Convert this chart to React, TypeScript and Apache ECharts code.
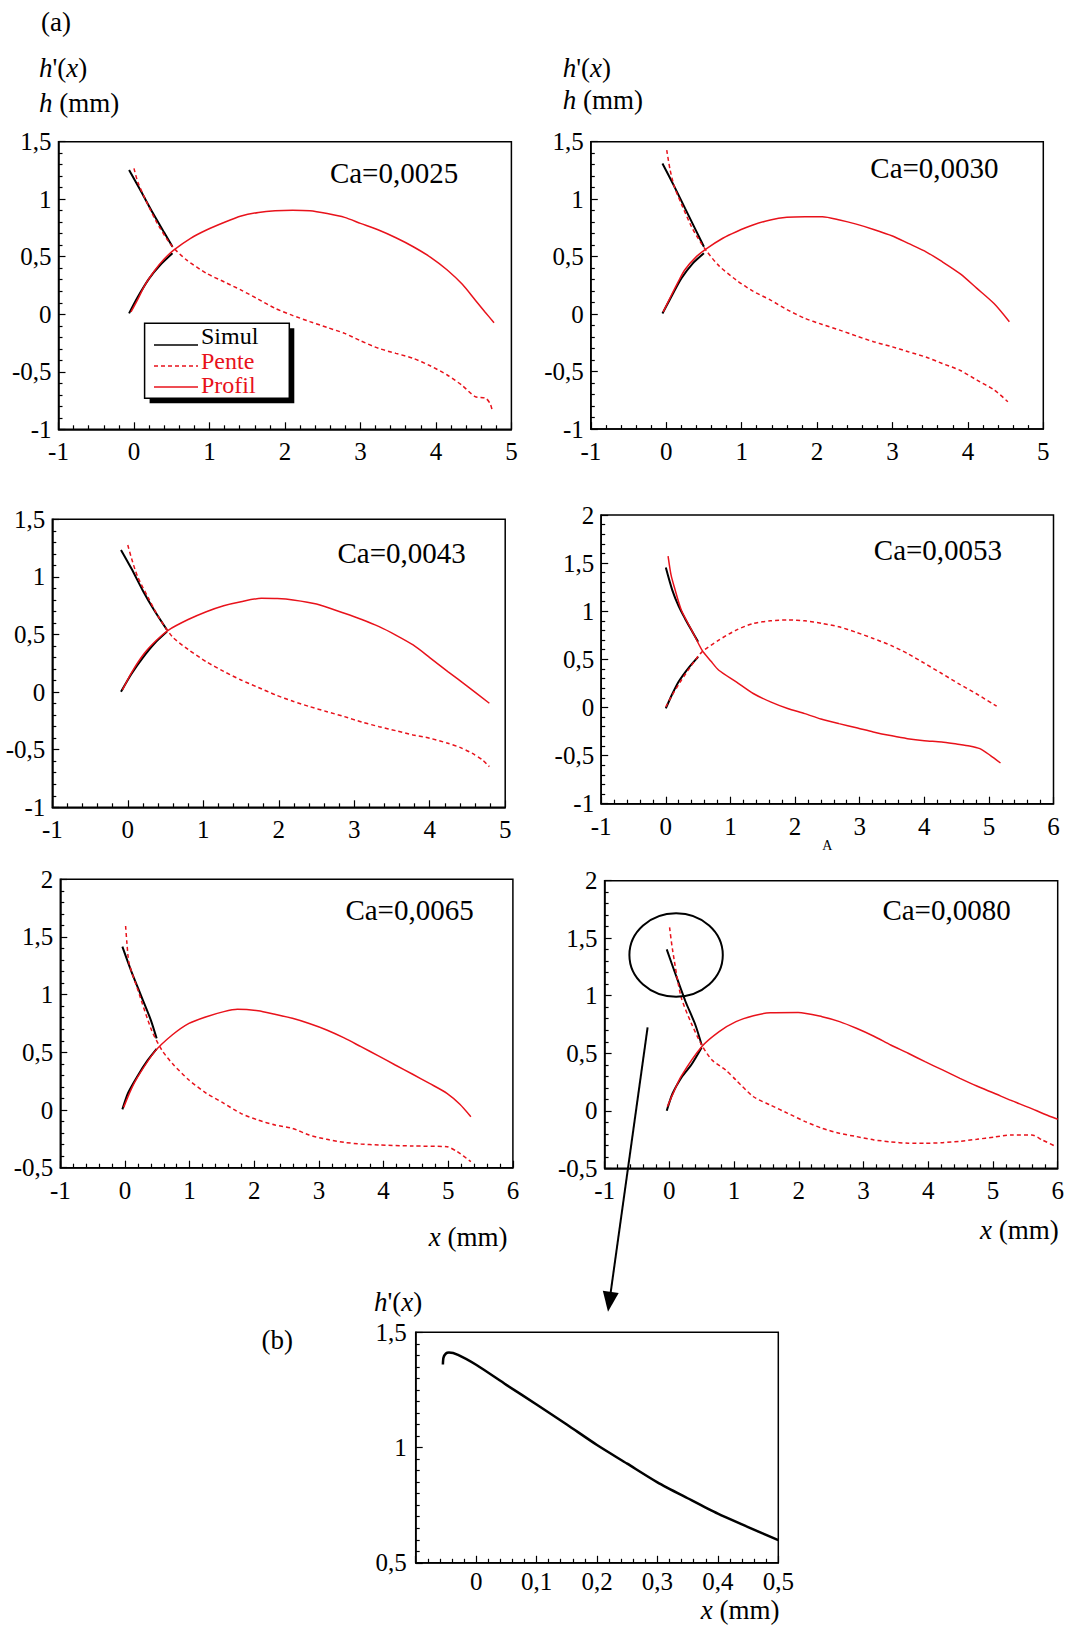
import React, { useEffect, useRef } from 'react';
import * as echarts from 'echarts';

const W = 1069;
const H = 1626;
const FONT = '"Liberation Serif", "Times New Roman", serif';
const RED = '#e8121b';

// ---------- data: Ca labels ----------
const caLabels = ['Ca=0,0025', 'Ca=0,0030', 'Ca=0,0043', 'Ca=0,0053', 'Ca=0,0065', 'Ca=0,0080'];

// ---------- Ca = 0,0025 ----------
const simulSlope1 = [[-0.065, 1.254], [0.1, 1.06], [0.25, 0.88], [0.4, 0.71], [0.51, 0.587]];
const simulH1 = [[-0.065, 0.008], [0.05, 0.15], [0.2, 0.31], [0.35, 0.43], [0.51, 0.53]];
const pente1 = [[0.0, 1.268], [0.05, 1.15], [0.15, 1.0], [0.3, 0.8], [0.45, 0.64], [0.53, 0.573], [0.7, 0.47], [0.96, 0.356], [1.2, 0.28], [1.42, 0.21], [1.65, 0.13], [1.87, 0.051], [2.1, -0.01], [2.33, -0.064], [2.56, -0.115], [2.79, -0.166], [3.0, -0.23], [3.24, -0.296], [3.47, -0.34], [3.7, -0.383], [3.93, -0.45], [4.15, -0.528], [4.35, -0.62], [4.52, -0.716], [4.66, -0.73], [4.72, -0.78], [4.75, -0.846]];
const profil1 = [[-0.04, 0.02], [0.05, 0.13], [0.15, 0.26], [0.28, 0.385], [0.4, 0.48], [0.53, 0.559], [0.75, 0.66], [0.96, 0.732], [1.2, 0.8], [1.42, 0.854], [1.65, 0.885], [1.87, 0.9], [2.1, 0.905], [2.33, 0.9], [2.56, 0.875], [2.79, 0.842], [3.0, 0.79], [3.24, 0.732], [3.47, 0.665], [3.7, 0.587], [3.93, 0.495], [4.15, 0.385], [4.35, 0.26], [4.52, 0.124], [4.65, 0.02], [4.77, -0.073]];

// ---------- Ca = 0,0030 ----------
const simulSlope2 = [[-0.05, 1.311], [0.1, 1.12], [0.25, 0.92], [0.4, 0.72], [0.5, 0.586]];
const simulH2 = [[-0.05, 0.006], [0.05, 0.13], [0.2, 0.31], [0.35, 0.44], [0.5, 0.53]];
const pente2 = [[0.007, 1.427], [0.05, 1.26], [0.108, 1.108], [0.2, 0.96], [0.336, 0.76], [0.45, 0.63], [0.541, 0.543], [0.7, 0.42], [0.928, 0.297], [1.15, 0.2], [1.384, 0.122], [1.6, 0.04], [1.84, -0.037], [2.07, -0.09], [2.3, -0.139], [2.52, -0.19], [2.75, -0.24], [3.0, -0.285], [3.21, -0.327], [3.45, -0.375], [3.66, -0.429], [3.9, -0.49], [4.12, -0.574], [4.35, -0.66], [4.53, -0.762]];
const profil2 = [[-0.04, 0.02], [0.05, 0.14], [0.15, 0.27], [0.245, 0.384], [0.4, 0.5], [0.54, 0.572], [0.75, 0.66], [0.93, 0.717], [1.15, 0.775], [1.38, 0.819], [1.6, 0.842], [1.84, 0.847], [2.07, 0.847], [2.3, 0.819], [2.52, 0.783], [2.75, 0.737], [3.0, 0.68], [3.21, 0.615], [3.45, 0.54], [3.66, 0.456], [3.9, 0.35], [4.12, 0.224], [4.35, 0.09], [4.55, -0.066]];

// ---------- Ca = 0,0043 ----------
const simulSlope3 = [[-0.09, 1.234], [0.05, 1.07], [0.2, 0.88], [0.35, 0.71], [0.52, 0.539]];
const simulH3 = [[-0.09, 0.004], [0.05, 0.16], [0.2, 0.3], [0.35, 0.42], [0.52, 0.525]];
const pente3 = [[0.0, 1.277], [0.05, 1.16], [0.13, 1.002], [0.27, 0.82], [0.405, 0.655], [0.59, 0.481], [0.8, 0.37], [1.04, 0.264], [1.27, 0.18], [1.5, 0.105], [1.73, 0.04], [1.96, -0.025], [2.19, -0.08], [2.41, -0.126], [2.64, -0.17], [2.87, -0.213], [3.1, -0.26], [3.33, -0.3], [3.55, -0.335], [3.78, -0.372], [4.0, -0.4], [4.24, -0.444], [4.4, -0.48], [4.56, -0.53], [4.7, -0.59], [4.79, -0.647]];
const profil3 = [[-0.07, 0.02], [0.05, 0.17], [0.22, 0.337], [0.38, 0.45], [0.54, 0.539], [0.8, 0.63], [1.04, 0.698], [1.27, 0.75], [1.5, 0.785], [1.77, 0.814], [1.98, 0.812], [2.19, 0.8], [2.5, 0.765], [2.87, 0.684], [3.1, 0.63], [3.33, 0.568], [3.55, 0.495], [3.78, 0.409], [4.0, 0.3], [4.24, 0.178], [4.5, 0.05], [4.79, -0.097]];

// ---------- Ca = 0,0053 ----------
const simulSlope4 = [[0.0, 1.455], [0.1, 1.22], [0.2, 1.05], [0.3, 0.92], [0.4, 0.8], [0.5, 0.682]];
const simulH4 = [[0.0, -0.01], [0.1, 0.14], [0.2, 0.27], [0.35, 0.41], [0.5, 0.526]];
const pente4 = [[0.035, 1.573], [0.08, 1.38], [0.13, 1.254], [0.24, 1.012], [0.4, 0.804], [0.56, 0.596], [0.7, 0.48], [0.82, 0.387], [1.09, 0.266], [1.353, 0.145], [1.62, 0.058], [1.886, -0.011], [2.15, -0.064], [2.4, -0.12], [2.68, -0.168], [2.95, -0.21], [3.21, -0.254], [3.5, -0.295], [3.74, -0.324], [4.0, -0.345], [4.27, -0.358], [4.5, -0.38], [4.7, -0.4], [4.86, -0.428], [5.02, -0.497], [5.18, -0.577]];
const profil4 = [[0.0, 0.006], [0.1, 0.13], [0.24, 0.283], [0.4, 0.44], [0.56, 0.578], [0.82, 0.7], [1.09, 0.804], [1.353, 0.873], [1.62, 0.9], [1.9, 0.91], [2.15, 0.9], [2.42, 0.873], [2.68, 0.838], [2.95, 0.78], [3.21, 0.717], [3.5, 0.64], [3.74, 0.561], [4.0, 0.46], [4.27, 0.353], [4.55, 0.24], [4.8, 0.145], [5.12, 0.013]];

// ---------- Ca = 0,0065 ----------
const simulSlope5 = [[-0.04, 1.416], [0.1, 1.2], [0.25, 0.99], [0.4, 0.78], [0.49, 0.621]];
const simulH5 = [[-0.04, 0.006], [0.05, 0.15], [0.2, 0.3], [0.35, 0.43], [0.49, 0.53]];
const pente5 = [[0.01, 1.595], [0.03, 1.45], [0.064, 1.272], [0.2, 1.04], [0.41, 0.694], [0.57, 0.52], [0.73, 0.405], [0.99, 0.26], [1.26, 0.145], [1.53, 0.058], [1.79, -0.029], [2.06, -0.087], [2.32, -0.13], [2.59, -0.159], [2.85, -0.217], [3.12, -0.254], [3.39, -0.28], [3.65, -0.295], [3.92, -0.303], [4.45, -0.312], [4.98, -0.318], [5.14, -0.361], [5.35, -0.448]];
const profil5 = [[-0.02, 0.023], [0.08, 0.16], [0.2, 0.289], [0.46, 0.506], [0.73, 0.65], [0.99, 0.751], [1.26, 0.809], [1.53, 0.853], [1.74, 0.873], [2.06, 0.861], [2.32, 0.83], [2.59, 0.795], [2.85, 0.75], [3.12, 0.694], [3.39, 0.625], [3.65, 0.549], [3.92, 0.47], [4.18, 0.39], [4.45, 0.31], [4.71, 0.231], [4.98, 0.145], [5.18, 0.05], [5.35, -0.058]];

// ---------- Ca = 0,0080 ----------
const simulSlope6 = [[-0.04, 1.403], [0.1, 1.18], [0.25, 0.95], [0.4, 0.75], [0.5, 0.572]];
const simulH6 = [[-0.04, 0.0], [0.05, 0.15], [0.2, 0.3], [0.34, 0.4], [0.5, 0.55]];
const pente6 = [[0.004, 1.594], [0.05, 1.398], [0.18, 0.992], [0.34, 0.76], [0.5, 0.572], [0.66, 0.441], [0.87, 0.354], [1.03, 0.267], [1.3, 0.122], [1.56, 0.05], [1.83, -0.022], [2.1, -0.094], [2.36, -0.152], [2.63, -0.196], [2.89, -0.224], [3.16, -0.253], [3.42, -0.27], [3.69, -0.282], [3.95, -0.283], [4.22, -0.277], [4.49, -0.265], [4.75, -0.248], [5.02, -0.228], [5.28, -0.21], [5.6, -0.21], [5.76, -0.253], [5.95, -0.305]];
const profil6 = [[-0.03, 0.036], [0.05, 0.14], [0.18, 0.297], [0.5, 0.557], [0.77, 0.688], [1.03, 0.775], [1.3, 0.826], [1.56, 0.852], [1.99, 0.855], [2.36, 0.818], [2.63, 0.775], [2.89, 0.717], [3.16, 0.648], [3.42, 0.572], [3.69, 0.5], [3.95, 0.427], [4.22, 0.355], [4.49, 0.282], [4.75, 0.215], [5.02, 0.152], [5.28, 0.09], [5.55, 0.03], [5.8, -0.03], [6.0, -0.074]];

// ---------- (b) zoom of Ca = 0,0080 slope ----------
const simulZoom = [[-0.055, 1.36], [-0.054, 1.39], [-0.05, 1.408], [-0.045, 1.412], [-0.03, 1.402], [0.0, 1.359], [0.05, 1.272], [0.1, 1.187], [0.15, 1.1], [0.2, 1.011], [0.25, 0.93], [0.3, 0.849], [0.35, 0.78], [0.4, 0.713], [0.45, 0.655], [0.5, 0.598]];

// ---------- axis ranges ----------
const xRanges = [[-1, 5], [-1, 5], [-1, 5], [-1, 6], [-1, 6], [-1, 6]];
const yRanges = [[-1, 1.5], [-1, 1.5], [-1, 1.5], [-1, 2], [-0.5, 2], [-0.5, 2]];

const panels = [
  { simulSlope: simulSlope1, simulH: simulH1, pente: pente1, profil: profil1 },
  { simulSlope: simulSlope2, simulH: simulH2, pente: pente2, profil: profil2 },
  { simulSlope: simulSlope3, simulH: simulH3, pente: pente3, profil: profil3 },
  { simulSlope: simulSlope4, simulH: simulH4, pente: pente4, profil: profil4 },
  { simulSlope: simulSlope5, simulH: simulH5, pente: pente5, profil: profil5 },
  { simulSlope: simulSlope6, simulH: simulH6, pente: pente6, profil: profil6 },
];

// layout (pixels)
const grids = [
  { left: 58.5, top: 141.7, width: 452.9, height: 287.6 },
  { left: 590.8, top: 141.7, width: 452.5, height: 287.4 },
  { left: 52.3, top: 519.3, width: 452.9, height: 288 },
  { left: 601.2, top: 515, width: 452.3, height: 288.7 },
  { left: 60.3, top: 879.3, width: 452.6, height: 288.4 },
  { left: 604.6, top: 880.7, width: 453.1, height: 287.6 },
  { left: 415.7, top: 1332.3, width: 362.6, height: 230.5 },
];
const caPos = [[329.9, 173.3], [870.3, 168.3], [337.5, 552.7], [873.8, 550], [345.4, 910], [882.4, 910]];
// panel with swapped line styles (Ca=0,0053)
const swapped = [false, false, false, true, false, false];

const fmt = (v: number) => String(Math.round(v * 100) / 100).replace('.', ',');

const tickStyle = { color: '#000', width: 1.2 };

function makeX(gi: number, min: number, max: number, interval: number, minorSplit: number, margin: number, hideMin = false) {
  return {
    type: 'value', gridIndex: gi, min, max, interval, position: 'bottom',
    axisLine: { show: true, onZero: false, lineStyle: { color: '#000', width: 1.5 } },
    axisTick: { show: true, inside: true, length: 7, lineStyle: tickStyle },
    minorTick: { show: true, splitNumber: minorSplit, length: 4, lineStyle: tickStyle },
    splitLine: { show: false },
    axisLabel: {
      color: '#000', fontFamily: FONT, fontSize: 25, margin,
      formatter: (v: number) => (hideMin && v < min + interval / 2 ? '' : fmt(v)),
    },
  };
}
function makeY(gi: number, min: number, max: number, interval: number, minorSplit: number, margin: number) {
  return {
    type: 'value', gridIndex: gi, min, max, interval, position: 'left',
    axisLine: { show: true, onZero: false, lineStyle: { color: '#000', width: 1.5 } },
    axisTick: { show: true, inside: true, length: 7, lineStyle: tickStyle },
    minorTick: { show: true, splitNumber: minorSplit, length: 4, lineStyle: tickStyle },
    splitLine: { show: false },
    axisLabel: { color: '#000', fontFamily: FONT, fontSize: 25, margin, formatter: (v: number) => fmt(v) },
  };
}

const richLabel = (size: number) => ({
  i: { fontStyle: 'italic', fontFamily: FONT, fontSize: size, fill: '#000' },
  n: { fontFamily: FONT, fontSize: size, fill: '#000' },
});

function textEl(text: string, x: number, y: number, size: number, fill = '#000', align = 'left') {
  return {
    type: 'text', x, y, z: 100,
    style: { text, fontFamily: FONT, fontSize: size, fill, align, verticalAlign: 'middle' },
  };
}
function richEl(text: string, x: number, y: number, size: number) {
  return {
    type: 'text', x, y, z: 100,
    style: { text, fontFamily: FONT, fontSize: size, fill: '#000', align: 'left', verticalAlign: 'middle', rich: richLabel(size) },
  };
}

function buildOption() {
  const xAxis: any[] = [];
  const yAxis: any[] = [];
  const series: any[] = [];
  panels.forEach((p, i) => {
    xAxis.push(makeX(i, xRanges[i][0], xRanges[i][1], 1, 5, 10));
    yAxis.push(makeY(i, yRanges[i][0], yRanges[i][1], 0.5, 5, 7));
    const base = { type: 'line', xAxisIndex: i, yAxisIndex: i, showSymbol: false, symbol: 'none', clip: true, z: 3, smooth: 0.25 };
    const dashed = { color: RED, width: 1.5, type: [4, 3] };
    const solid = { color: RED, width: 1.5, type: 'solid' };
    series.push({ ...base, name: 'Simul', data: p.simulSlope, lineStyle: { color: '#000', width: 2 } });
    series.push({ ...base, name: 'Simul', data: p.simulH, lineStyle: { color: '#000', width: 2 } });
    series.push({ ...base, name: 'Pente', data: p.pente, lineStyle: swapped[i] ? solid : dashed });
    series.push({ ...base, name: 'Profil', data: p.profil, lineStyle: swapped[i] ? dashed : solid });
  });
  xAxis.push(makeX(6, -0.1, 0.5, 0.1, 5, 6, true));
  yAxis.push(makeY(6, 0.5, 1.5, 0.5, 10, 9));
  series.push({ type: 'line', xAxisIndex: 6, yAxisIndex: 6, showSymbol: false, symbol: 'none', smooth: 0.25, data: simulZoom, lineStyle: { color: '#000', width: 2.5 } });

  // arrow geometry
  const ax0 = 647.6, ay0 = 1027.3, tipX = 608, tipY = 1311.7;
  const len = Math.hypot(tipX - ax0, tipY - ay0);
  const ux = (tipX - ax0) / len, uy = (tipY - ay0) / len;
  const bx = tipX - 20 * ux, by = tipY - 20 * uy;
  const px = -uy, py = ux;

  const graphic: any[] = [
    textEl('(a)', 41, 21.7, 27),
    richEl("{i|h}{n|'(}{i|x}{n|)}", 39, 68, 27),
    richEl('{i|h}{n| (mm)}', 39, 103, 27),
    richEl("{i|h}{n|'(}{i|x}{n|)}", 562.7, 68.3, 27),
    richEl('{i|h}{n| (mm)}', 562.7, 100, 27),
    richEl('{i|x}{n| (mm)}', 428.7, 1236.7, 27),
    richEl('{i|x}{n| (mm)}', 980, 1230, 27),
    richEl('{i|x}{n| (mm)}', 700.7, 1610, 27),
    richEl("{i|h}{n|'(}{i|x}{n|)}", 374, 1301.7, 27),
    textEl('(b)', 261.4, 1340, 27),
    textEl('A', 827.4, 845, 14, '#000', 'center'),
    // legend box with shadow
    { type: 'rect', z: 100, shape: { x: 149.6, y: 328.3, width: 144.7, height: 75 }, style: { fill: '#000' } },
    { type: 'rect', z: 101, shape: { x: 144.6, y: 323.3, width: 144.7, height: 75 }, style: { fill: '#fff', stroke: '#000', lineWidth: 1.5 } },
    { type: 'line', z: 102, shape: { x1: 154, y1: 345, x2: 198, y2: 345 }, style: { stroke: '#000', lineWidth: 1.5 } },
    { type: 'line', z: 102, shape: { x1: 154, y1: 366, x2: 198, y2: 366 }, style: { stroke: RED, lineWidth: 1.5, lineDash: [4, 3] } },
    { type: 'line', z: 102, shape: { x1: 154, y1: 387, x2: 198, y2: 387 }, style: { stroke: RED, lineWidth: 1.5 } },
    { ...textEl('Simul', 201, 336, 24), z: 103 },
    { ...textEl('Pente', 201, 361, 24, RED), z: 103 },
    { ...textEl('Profil', 201, 385, 24, RED), z: 103 },
    // circle and arrow
    { type: 'ellipse', z: 100, shape: { cx: 676.1, cy: 955, rx: 46.7, ry: 41.7 }, style: { fill: 'none', stroke: '#000', lineWidth: 2 } },
    { type: 'line', z: 100, shape: { x1: ax0, y1: ay0, x2: bx + 2 * ux, y2: by + 2 * uy }, style: { stroke: '#000', lineWidth: 2 } },
    { type: 'polygon', z: 100, shape: { points: [[tipX, tipY], [bx + 8 * px, by + 8 * py], [bx - 8 * px, by - 8 * py]] }, style: { fill: '#000' } },
  ];
  caLabels.forEach((t, i) => graphic.push(textEl(t, caPos[i][0], caPos[i][1], 29)));

  return {
    animation: false,
    backgroundColor: '#fff',
    grid: grids.map((g) => ({ ...g, show: true, borderColor: '#000', borderWidth: 1.5, backgroundColor: 'transparent', containLabel: false })),
    xAxis,
    yAxis,
    series,
    graphic,
  };
}

export default function App() {
  const ref = useRef<HTMLDivElement>(null);
  useEffect(() => {
    document.body.style.margin = '0';
    const chart = echarts.init(ref.current as HTMLDivElement, null, { renderer: 'svg', width: W, height: H });
    chart.setOption(buildOption() as any);
    return () => chart.dispose();
  }, []);
  return <div ref={ref} style={{ width: W, height: H, background: '#fff' }} />;
}
